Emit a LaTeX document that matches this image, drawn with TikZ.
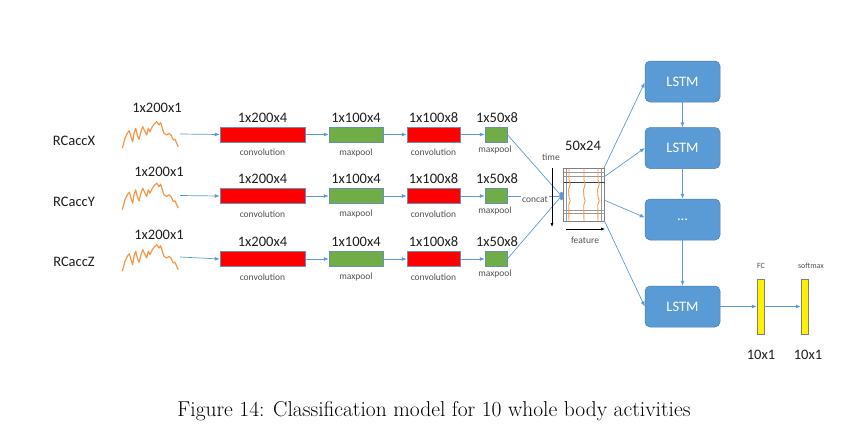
\documentclass[tikz,border=0pt]{standalone}
\usepackage{fontspec}
\newfontfamily\carlfont{Carlito}
\usetikzlibrary{arrows.meta,shapes.geometric}
\definecolor{arr}{RGB}{91,155,213}
\definecolor{lstmblue}{RGB}{91,155,213}
\definecolor{convred}{RGB}{255,0,0}
\definecolor{poolgreen}{RGB}{112,173,71}
\definecolor{wave}{RGB}{247,150,70}
\definecolor{txt}{RGB}{30,30,30}
\definecolor{small}{RGB}{80,80,80}
\tikzset{
  conn/.style={draw=arr, line width=0.7pt, -{Latex[length=5pt,width=4pt]}},
  line/.style={draw=arr, line width=0.7pt},
  convbox/.style={draw=arr!60!gray, line width=0.5pt, fill=convred, minimum height=15pt, inner sep=0pt},
  poolbox/.style={draw=arr!60!gray, line width=0.5pt, fill=poolgreen, minimum height=15pt, inner sep=0pt},
  big/.style={font=\carlfont\fontsize{14.5}{16}\selectfont, text=txt, inner sep=0pt},
  tiny/.style={font=\carlfont\fontsize{9.5}{11}\selectfont, text=small, inner sep=0pt},
  lstm/.style={draw=arr!80!black, line width=0.5pt, fill=lstmblue, rounded corners=5pt, minimum width=75pt, minimum height=41pt, inner sep=0pt, font=\carlfont\fontsize{14.5}{16}\selectfont, text=white},
  bar/.style={draw=gray, line width=0.5pt, fill=yellow, minimum width=7pt, minimum height=55pt, inner sep=0pt},
  sig/.style={draw=wave, line width=1.2pt, line join=round},
}
\begin{document}
\begin{tikzpicture}[x=1pt,y=-1pt]
\useasboundingbox (0,0) rectangle (856,447);
% row labels
\node[big] (rx) at (74,141) {RCaccX};
\node[big] (ry) at (74,202) {RCaccY};
\node[big] (rz) at (74,262) {RCaccZ};
% signals
\foreach \dy/\n in {0/1,61.5/2,123/3}{
  \draw[sig, yshift=-\dy pt] (122.3,148.3) -- (125,138.3) -- (127.3,133.3) -- (129.3,130.7) -- (131,136.7) -- (132.7,141.7) -- (134,133.3) -- (135.7,128.3) -- (137.3,135) -- (139,139.3) -- (141,131.7) -- (142.7,126.7) -- (144.3,130) -- (146.7,135) -- (148.3,128.3) -- (150,131.7) -- (152.3,126.7) -- (154.3,124) -- (156.7,121.7) -- (159,125) -- (160.7,122.7) -- (162.3,128.3) -- (164,133.3) -- (166.7,135) -- (169,133.3) -- (171,135) -- (173.3,140) -- (175,139.3) -- (176.7,143.3) -- (178.3,146.7);
  \coordinate (w\n) at (180,134+\dy);
}
\node[big] (s1) at (157,108) {1x200x1};
\node[big] (s2) at (159,172) {1x200x1};
\node[big] (s3) at (159,235) {1x200x1};
% rows
\foreach \r/\y in {1/134.5,2/196,3/259}{
  \node[convbox, minimum width=85pt] (ca\r) at (262.5,\y) {};
  \node[poolbox, minimum width=54pt] (pa\r) at (356,\y) {};
  \node[convbox, minimum width=53pt] (cb\r) at (433.5,\y) {};
  \node[poolbox, minimum width=22pt] (pb\r) at (496,\y) {};
  \node[big] (lca\r) at (262.5,\y-17) {1x200x4};
  \node[big] (lpa\r) at (356,\y-17) {1x100x4};
  \node[big] (lcb\r) at (433.5,\y-17) {1x100x8};
  \node[big] (lpb\r) at (497,\y-17) {1x50x8};
  \node[tiny] (tca\r) at (262.5,\y+18) {convolution};
  \node[tiny] (tpa\r) at (356,\y+18) {maxpool};
  \node[tiny] (tcb\r) at (433.5,\y+18) {convolution};
  \node[tiny] (tpb\r) at (495,\y+15) {maxpool};
  \draw[conn] (w\r) -- (ca\r.west);
  \draw[conn] (ca\r.east) -- (pa\r.west);
  \draw[conn] (pa\r.east) -- (cb\r.west);
  \draw[conn] (cb\r.east) -- (pb\r.west);
}
% concat matrix
\node[draw=gray, line width=0.6pt, minimum width=41pt, minimum height=53pt, inner sep=0pt] (mat) at (584,195) {};
\begin{scope}[draw=gray!80, line width=0.5pt]
  \draw (564,172.3) -- (605,172.3);
  \draw (564,176) -- (605,176);
  \draw (564,210) -- (605,210);
  \draw (564,213.3) -- (605,213.3);
  \draw (566.7,168.5) -- (566.7,221.5);
  \draw (601.7,168.5) -- (601.7,221.5);
\end{scope}
\draw[black!75, line width=1.2pt] (564,182.7) -- (605,182.7);
\foreach \x in {569,584,598}{
  \draw[wave, line width=0.9pt] (\x,168.5) -- (\x,180) -- (\x+1.2,184) -- (\x-0.5,190) -- (\x,197) -- (\x+1.2,201) -- (\x-0.3,205) -- (\x,221.5);
}
\node[ellipse, fill=arr, draw=arr, minimum width=4pt, minimum height=8pt, inner sep=0pt] (dot) at (561.5,196) {};
\foreach \r in {1,2,3}{ \draw[line] (pb\r.east) -- (dot); }
\node[big] (dim) at (583,146) {50x24};
\node[tiny] (time) at (551,157) {time};
\node[tiny, fill=white, inner sep=1pt] (cc) at (535,200) {concat};
\coordinate (ta) at (552,168);
\coordinate (tb) at (552,227);
\draw[black, line width=0.6pt, -{Latex[length=4pt,width=3pt]}] (ta) -- (tb);
\coordinate (fa) at (566,229);
\coordinate (fb) at (605,229);
\draw[black, line width=0.6pt, -{Latex[length=4pt,width=3pt]}] (fa) -- (fb);
\node[tiny] (feat) at (585,240) {feature};
% LSTMs
\node[lstm] (l1) at (682.5,81.5) {LSTM};
\node[lstm] (l2) at (682.5,148) {LSTM};
\node[lstm] (l3) at (682.5,219.5) {...};
\node[lstm] (l4) at (682.5,306.5) {LSTM};
\draw[conn] (l1) -- (l2);
\draw[conn] (l2) -- (l3);
\draw[conn] (l3) -- (l4);
\coordinate (m1) at (604,168);
\coordinate (m2) at (604,177);
\coordinate (m3) at (604,200);
\coordinate (m4) at (604,220);
\draw[conn] (m1) -- ([yshift=-1pt]l1.west);
\draw[conn] (m2) -- (l2.west);
\draw[conn] (m3) -- ([yshift=2pt]l3.west);
\draw[conn] (m4) -- (l4.west);
% FC softmax
\node[bar] (fc) at (760.5,306.5) {};
\node[bar] (sm) at (804.5,306.5) {};
\draw[conn] (l4.east) -- (fc.west);
\draw[conn] (fc.east) -- (sm.west);
\node[font=\carlfont\fontsize{8}{9}\selectfont, text=small, inner sep=0pt] (fcl) at (761,266) {FC};
\node[font=\carlfont\fontsize{8}{9}\selectfont, text=small, inner sep=0pt] (sml) at (811,266) {softmax};
\node[big] (fcd) at (761,355) {10x1};
\node[big] (smd) at (808,355) {10x1};
% caption
\node[font=\fontsize{21.5}{24}\selectfont, inner sep=0pt] (cap) at (434,411) {Figure 14: Classification model for 10 whole body activities};
\end{tikzpicture}
\end{document}
